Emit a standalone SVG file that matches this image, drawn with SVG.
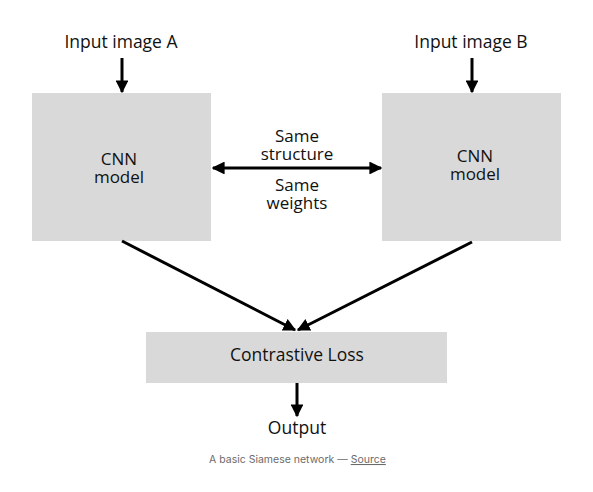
<svg xmlns="http://www.w3.org/2000/svg" width="593" height="492" viewBox="0 0 593 492">
<style>
.box{fill:#d9d9d9}
.t{font-family:"Open Sans","Liberation Sans",sans-serif;font-size:17px;fill:#111;text-anchor:middle}
.big{font-size:17.5px}
.c{stroke:#000;stroke-width:3;fill:none}
.cap{font-family:"Inter","Liberation Sans",sans-serif;font-size:10.5px;fill:#6b6b6b;text-anchor:start}
</style>
<defs>
<marker id="ah" viewBox="0 0 10 10" refX="9" refY="5" markerWidth="4.3" markerHeight="4.3" orient="auto-start-reverse" markerUnits="strokeWidth">
<path d="M0,0 L10,5 L0,10 z" fill="#000"/>
</marker>
</defs>
<rect width="593" height="492" fill="#fff"/>
<g id="inputA"><text class="t big" x="121" y="48">Input image A</text></g>
<g id="inputB"><text class="t big" x="471" y="48">Input image B</text></g>
<g id="cnnA"><rect class="box" x="32" y="93" width="179" height="148"/><text class="t" x="119" y="165">CNN</text><text class="t" x="119" y="183">model</text></g>
<g id="cnnB"><rect class="box" x="382" y="93" width="179" height="148"/><text class="t" x="475" y="162">CNN</text><text class="t" x="475" y="180">model</text></g>
<g id="loss"><rect class="box" x="146" y="332" width="301" height="51"/><text class="t big" x="297" y="361">Contrastive Loss</text></g>
<g id="output"><text class="t big" x="297" y="434">Output</text></g>
<g id="shared"><text class="t" x="297" y="142">Same</text><text class="t" x="297" y="160">structure</text><text class="t" x="297" y="191">Same</text><text class="t" x="297" y="209">weights</text></g>
<g id="connectors">
<line class="c" x1="122" y1="58" x2="122" y2="92" marker-end="url(#ah)"/>
<line class="c" x1="472" y1="58" x2="472" y2="92" marker-end="url(#ah)"/>
<line class="c" x1="213" y1="168" x2="381" y2="168" marker-start="url(#ah)" marker-end="url(#ah)"/>
<line class="c" x1="122" y1="241" x2="295" y2="330" marker-end="url(#ah)"/>
<line class="c" x1="472" y1="242" x2="298" y2="330" marker-end="url(#ah)"/>
<line class="c" x1="297" y1="383" x2="297" y2="416" marker-end="url(#ah)"/>
</g>
<g id="caption"><text class="cap" x="209" y="463">A basic Siamese network — <tspan text-decoration="underline">Source</tspan></text></g>
</svg>
